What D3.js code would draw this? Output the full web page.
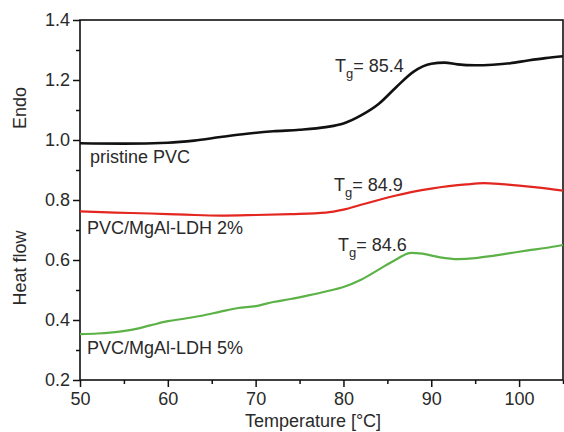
<!DOCTYPE html>
<html>
<head>
<meta charset="utf-8">
<script src="https://cdn.jsdelivr.net/npm/d3@7/dist/d3.min.js"></script>
<style>
  html, body { margin: 0; padding: 0; background: #fff; }
  svg { display: block; font-family: "Liberation Sans", Arial, Helvetica, sans-serif; }
</style>
</head>
<body>
<svg id="chart" width="564" height="432"></svg>
<script>
// DSC heating curves (heat flow vs temperature)
const pristineT = [50, 55, 60, 63, 66, 69, 72, 75, 78, 80, 82, 84, 86, 88, 90, 91.5, 93, 95, 97, 99, 101, 103, 105];
const pristineV = [0.989, 0.988, 0.991, 0.998, 1.010, 1.021, 1.029, 1.034, 1.043, 1.055, 1.082, 1.120, 1.176, 1.228, 1.254, 1.258, 1.252, 1.249, 1.251, 1.256, 1.265, 1.273, 1.279];

const ldh2T = [50, 54, 58, 62, 66, 70, 74, 78, 80, 82, 84, 86, 88, 90, 92, 94, 96, 98, 100, 102, 105];
const ldh2V = [0.762, 0.758, 0.755, 0.751, 0.748, 0.750, 0.753, 0.758, 0.768, 0.784, 0.800, 0.815, 0.828, 0.838, 0.846, 0.852, 0.856, 0.853, 0.848, 0.842, 0.831];

const ldh5T = [50, 52, 54.5, 56, 58, 60, 62, 64, 66, 68, 70, 72, 74, 76, 78, 80, 82, 84, 86, 87.7, 89, 91, 93, 95, 97, 99, 101, 103, 105];
const ldh5V = [0.353, 0.355, 0.361, 0.368, 0.382, 0.396, 0.405, 0.415, 0.428, 0.440, 0.446, 0.460, 0.470, 0.482, 0.495, 0.510, 0.534, 0.568, 0.602, 0.624, 0.621, 0.609, 0.603, 0.606, 0.614, 0.623, 0.632, 0.640, 0.650];

const seriesNames = ["pristine PVC", "PVC/MgAl-LDH 2%", "PVC/MgAl-LDH 5%"];
const tgValues = ["85.4", "84.9", "84.6"];
const seriesColors = ["#111111", "#e3261f", "#5cb247"];

const xTicks = [50, 60, 70, 80, 90, 100];
const xMinor = [55, 65, 75, 85, 95, 105];
const yTicks = [0.2, 0.4, 0.6, 0.8, 1.0, 1.2, 1.4];
const yMinor = [0.3, 0.5, 0.7, 0.9, 1.1, 1.3];

const W = 564, H = 432;
const m = { left: 80, right: 1, top: 20, bottom: 52 };
const svg = d3.select("#chart");

const x = d3.scaleLinear().domain([50, 105]).range([m.left, W - m.right]);
const y = d3.scaleLinear().domain([0.2, 1.4]).range([H - m.bottom, m.top]);

const textColor = "#2a2a2a";

// frame
svg.append("rect")
  .attr("x", x(50)).attr("y", y(1.4))
  .attr("width", x(105) - x(50)).attr("height", y(0.2) - y(1.4))
  .attr("fill", "none").attr("stroke", "#111").attr("stroke-width", 1.6);

// x axis
const xAxis = svg.append("g").attr("transform", `translate(0,${y(0.2)})`);
xAxis.call(d3.axisBottom(x).tickValues(xTicks).tickSize(7).tickPadding(5).tickFormat(d3.format("d")));
xAxis.append("g").call(d3.axisBottom(x).tickValues(xMinor).tickSize(4).tickFormat(""));

// y axis
const yAxis = svg.append("g").attr("transform", `translate(${x(50)},0)`);
yAxis.call(d3.axisLeft(y).tickValues(yTicks).tickSize(7).tickPadding(3).tickFormat(d3.format(".1f")));
yAxis.append("g").call(d3.axisLeft(y).tickValues(yMinor).tickSize(4).tickFormat(""));

svg.selectAll(".domain").attr("stroke", "none");
svg.selectAll(".tick line").attr("stroke", "#111").attr("stroke-width", 1.5);
svg.selectAll(".tick text").attr("fill", textColor).attr("font-size", 18)
  .attr("font-family", "Liberation Sans, Arial, sans-serif");

// axis titles
svg.append("text")
  .attr("x", 313).attr("y", 427)
  .attr("text-anchor", "middle").attr("font-size", 18).attr("fill", textColor)
  .text("Temperature [°C]");

svg.append("text")
  .attr("transform", "translate(26,108) rotate(-90)")
  .attr("text-anchor", "middle").attr("font-size", 18).attr("fill", textColor)
  .text("Endo");

svg.append("text")
  .attr("transform", "translate(26,268) rotate(-90)")
  .attr("text-anchor", "middle").attr("font-size", 18).attr("fill", textColor)
  .text("Heat flow");

// curves
const line = d3.line().x(d => x(d[0])).y(d => y(d[1])).curve(d3.curveMonotoneX);
const curves = [
  { t: pristineT, v: pristineV, w: 2.6 },
  { t: ldh2T, v: ldh2V, w: 2.2 },
  { t: ldh5T, v: ldh5V, w: 2.2 }
];
curves.forEach((c, i) => {
  svg.append("path")
    .datum(c.t.map((t, k) => [t, c.v[k]]))
    .attr("d", line)
    .attr("fill", "none")
    .attr("stroke", seriesColors[i])
    .attr("stroke-width", c.w)
    .attr("stroke-linejoin", "round");
});

// series labels
const labelPos = [[90, 163], [87, 234], [87, 354]];
seriesNames.forEach((name, i) => {
  svg.append("text")
    .attr("x", labelPos[i][0]).attr("y", labelPos[i][1])
    .attr("font-size", 18).attr("fill", textColor)
    .text(name);
});

// glass transition annotations
const tgPos = [[335, 72], [334, 191], [338, 251]];
tgValues.forEach((val, i) => {
  const t = svg.append("text")
    .attr("x", tgPos[i][0]).attr("y", tgPos[i][1])
    .attr("font-size", 18).attr("fill", textColor);
  t.append("tspan").text("T");
  t.append("tspan").attr("font-size", 13).attr("dy", 6).text("g");
  t.append("tspan").attr("dy", -6).text("= " + val);
});
</script>
</body>
</html>
